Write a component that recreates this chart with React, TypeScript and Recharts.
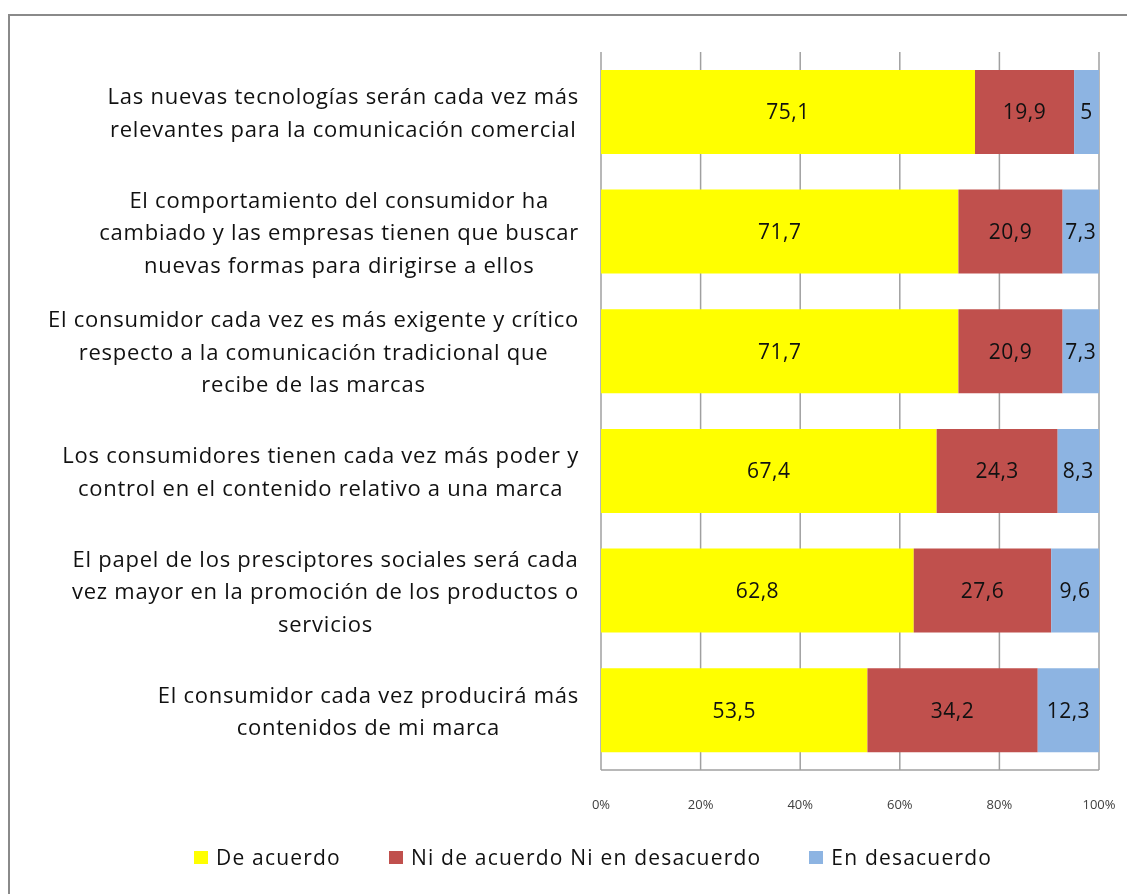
import { BarChart, Bar, XAxis, YAxis, CartesianGrid, Legend, LabelList } from 'recharts';

const categorias = ['c1', 'c2', 'c3', 'c4', 'c5', 'c6'];

const etiquetas = [
  ['Las nuevas tecnologías serán cada vez más', 'relevantes para la comunicación comercial'],
  ['El comportamiento del consumidor ha', 'cambiado y las empresas tienen que buscar', 'nuevas formas para dirigirse a ellos'],
  ['El consumidor cada vez es más exigente y crítico', 'respecto a la comunicación tradicional que', 'recibe de las marcas'],
  ['Los consumidores tienen cada vez más poder y', 'control en el contenido relativo a una marca'],
  ['El papel de los presciptores sociales será cada', 'vez mayor en la promoción de los productos o', 'servicios'],
  ['El consumidor cada vez producirá más', 'contenidos de mi marca'],
];

const deAcuerdo = [75.1, 71.7, 71.7, 67.4, 62.8, 53.5];
const niNi = [19.9, 20.9, 20.9, 24.3, 27.6, 34.2];
const enDesacuerdo = [5, 7.3, 7.3, 8.3, 9.6, 12.3];

const porcentajes = [0, 0.2, 0.4, 0.6, 0.8, 1];

const series = [
  { key: 'deAcuerdo', name: 'De acuerdo', color: '#FFFF00' },
  { key: 'niNi', name: 'Ni de acuerdo Ni en desacuerdo', color: '#C0504D' },
  { key: 'enDesacuerdo', name: 'En desacuerdo', color: '#8DB4E2' },
];

const data = categorias.map((c, i) => ({
  cat: c,
  deAcuerdo: deAcuerdo[i],
  niNi: niNi[i],
  enDesacuerdo: enDesacuerdo[i],
}));

const FONT = '"Open Sans", sans-serif';
const LABEL_SIZE = 22;
const LABEL_LS = 0.75;

let ctx: CanvasRenderingContext2D | null = null;
const medir = (t: string) => {
  if (!ctx) {
    ctx = document.createElement('canvas').getContext('2d');
  }
  if (!ctx) return t.length * 11;
  ctx.font = `${LABEL_SIZE}px "Open Sans"`;
  return ctx.measureText(t).width + t.length * LABEL_LS;
};

const EtiquetaCategoria = (props: any) => {
  const { x, y, index } = props;
  const lineas = etiquetas[index] || [];
  const maxW = Math.max(...lineas.map(medir));
  const cx = x - 14 - maxW / 2;
  const alto = 32.5;
  const y0 = y - ((lineas.length - 1) * alto) / 2 + 1;
  return (
    <text
      x={cx}
      y={y0}
      textAnchor="middle"
      fontFamily={FONT}
      fontSize={LABEL_SIZE}
      letterSpacing={LABEL_LS}
      fill="#111"
    >
      {lineas.map((l: string, i: number) => (
        <tspan key={i} x={cx} y={y0 + i * alto} dy="0.35em">
          {l}
        </tspan>
      ))}
    </text>
  );
};

const coma = (v: any) => String(v).replace('.', ',');

const LeyendaPropia = () => (
  <div
    style={{
      display: 'flex',
      alignItems: 'center',
      height: 30,
      paddingLeft: 186,
      fontFamily: FONT,
      fontSize: 21,
      letterSpacing: 1.2,
      color: '#111',
    }}
  >
    {series.map((s) => (
      <div key={s.key} style={{ display: 'flex', alignItems: 'center', marginRight: 48 }}>
        <span style={{ display: 'inline-block', width: 14, height: 13, background: s.color, marginRight: 8 }} />
        <span>{s.name}</span>
      </div>
    ))}
  </div>
);

export default function App() {
  return (
    <div style={{ position: 'relative', width: 1111, height: 878 }}>
      <div
        style={{
          position: 'fixed',
          left: 8,
          top: 14,
          right: -20,
          bottom: -20,
          borderTop: '2px solid #8a8a8a',
          borderLeft: '2px solid #8a8a8a',
        }}
      />
      <BarChart
        width={1111}
        height={878}
        data={data}
        layout="vertical"
        stackOffset="expand"
        barCategoryGap="15%"
        margin={{ top: 44, right: 20, left: 0, bottom: 50 }}
        style={{ position: 'absolute', left: 0, top: 0 }}
      >
        <CartesianGrid horizontal={false} stroke="#a0a0a0" strokeWidth={1.5} />
        <XAxis
          type="number"
          domain={[0, 1]}
          ticks={porcentajes}
          tickFormatter={(v: number) => `${Math.round(v * 100)}%`}
          stroke="#a0a0a0"
          strokeWidth={1.5}
          tickLine={false}
          tickMargin={24}
          height={36}
          tick={{ fill: '#404040', fontSize: 13, fontFamily: FONT }}
        />
        <XAxis
          xAxisId="top"
          orientation="top"
          type="number"
          domain={[0, 1]}
          ticks={porcentajes}
          tick={false}
          tickLine={false}
          stroke="#a0a0a0"
          strokeWidth={1.5}
          height={0}
        />
        <YAxis
          type="category"
          dataKey="cat"
          width={593}
          tickLine={false}
          axisLine={false}
          tick={<EtiquetaCategoria />}
        />
        <Legend
          verticalAlign="bottom"
          content={<LeyendaPropia />}
          wrapperStyle={{ position: 'absolute', top: 834, left: 0, width: 1111, height: 30 }}
        />
        {series.map((s) => (
          <Bar key={s.key} dataKey={s.key} name={s.name} stackId="a" fill={s.color} isAnimationActive={false}>
            <LabelList
              dataKey={s.key}
              position="center"
              formatter={coma}
              fill="#111"
              fontSize={21}
              letterSpacing={0.5}
              fontFamily={FONT}
            />
          </Bar>
        ))}
      </BarChart>
    </div>
  );
}
